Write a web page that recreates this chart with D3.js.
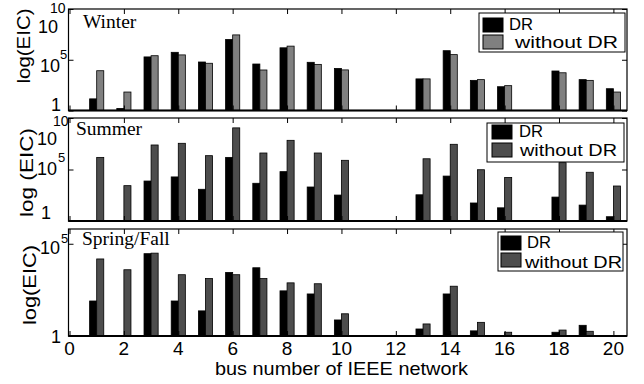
<!DOCTYPE html>
<html><head><meta charset="utf-8">
<script src="https://cdn.jsdelivr.net/npm/d3@7"></script>
<style>
body{margin:0;background:#fff;}
svg{display:block;}
text{font-family:"Liberation Sans",Arial,Helvetica,sans-serif;fill:#000;}
.ttl{font-family:"Liberation Serif","Times New Roman",serif;}
</style></head>
<body><svg id="c" width="644" height="384"></svg>
<script>
// ---- data ----
const buses = [1,2,3,4,5,6,7,8,9,10,11,12,13,14,15,16,17,18,19,20];
const seriesNames = ["DR", "without DR"];
const panelTitles = ["Winter", "Summer", "Spring/Fall"];
const yLabels = ["log(EIC)", "log (EIC)", "log(EIC)"];
const xTicks = [0,2,4,6,8,10,12,14,16,18,20];
const xLabel = "bus number of IEEE network";

const winterDR   = [14, 1.6, 1.9e5, 5.4e5, 6.0e4, 1.0e7, 3.8e4, 1.5e6, 5.6e4, 1.4e4, null, null, 1.3e3, 7.8e5, 930, 220, null, 7.8e3, 1.1e3, 140];
const winterNoDR = [8.3e3, 66, 2.5e5, 3.0e5, 4.5e4, 2.8e7, 9.8e3, 2.2e6, 3.5e4, 1.0e4, null, null, 1.3e3, 3.2e5, 1.1e3, 280, null, 5.2e3, 930, 66];
const summerDR   = [null, null, 7.6e3, 1.9e4, 1.2e3, 1.5e6, 4.6e3, 6.2e4, 2.0e3, 330, null, null, 350, 2.3e4, 56, 19, null, 210, 35, 2.6];
const summerNoDR = [1.5e6, 2.7e3, 2.4e7, 3.5e7, 2.2e6, 1.1e9, 4.0e6, 6.8e7, 4.0e6, 7.8e5, null, null, 1.1e6, 2.8e7, 9.5e4, 1.7e4, null, 4.6e5, 5.4e4, 2.5e3];
const springDR   = [79, null, 2.9e4, 79, 23, 2.8e3, 5.0e3, 280, 190, 7.4, null, null, 2.4, 190, 1.9, null, null, 1.6, 3.8, null];
const springNoDR = [1.5e4, 3.9e3, 3.1e4, 2.1e3, 1.3e3, 2.1e3, 1.3e3, 760, 680, 16, null, null, 4.5, 500, 5.5, 1.6, null, 2.1, 1.8, null];

const yDomainMax = [1e10, 1e10, Math.pow(10, 5.8)];
const yTickValues = [[1, 1e5, 1e10], [1, 1e5, 1e10], [1, 1e5]];
const yTickBase = [["1","10","10"], ["1","10","10"], ["1","10"]];
const yTickExp  = [["","5","10"], ["","5","10"], ["","5"]];

// ---- layout / style ----
const left = 68.5, right = 627;
const panels = [
  {top: 9,   bottom: 110.5, dr: winterDR, nodr: winterNoDR, gray: "#808080",
   title: {x: 83, y: 28},
   ylab: {x: 30, y: 46, len: 75},
   tl: [{bx:61, by:111, ex:0, ey:0}, {bx:60, by:72, ex:60, ey:59, es:13}, {bx:58, by:32.5, ex:50, ey:13, es:14}],
   leg: {x: 479, y: 13, w: 146, h: 39, sw: 483, s1: 18, s2: 35, t1x: 509, t1y: 30, t2x: 515, t2y: 48, t2len: 103}},
  {top: 118, bottom: 221, dr: summerDR, nodr: summerNoDR, gray: "#4d4d4d",
   title: {x: 76, y: 135},
   ylab: {x: 33, y: 172.5, len: 89},
   tl: [{bx:51, by:219}, {bx:57, by:175, ex:58, ey:162, es:13}, {bx:57, by:145, ex:53, ey:126, es:14}],
   leg: {x: 487, y: 123, w: 137, h: 39, sw: 492, s1: 125, s2: 143, t1x: 519, t1y: 137, t2x: 520, t2y: 156, t2len: 97}},
  {top: 229, bottom: 336, dr: springDR, nodr: springNoDR, gray: "#4d4d4d",
   title: {x: 82, y: 245},
   ylab: {x: 36, y: 285, len: 80},
   tl: [{bx:61, by:343}, {bx:60, by:254, ex:61, ey:243, es:13}],
   leg: {x: 498, y: 232, w: 125, h: 39, sw: 501, s1: 236, s2: 253, t1x: 527, t1y: 248, t2x: 525, t2y: 268, t2len: 97}}
];

const svg = d3.select("#c");
const x = d3.scaleLinear().domain([0, 20.5]).range([69.5, 627]);
const barW = 0.26;

panels.forEach((p, i) => {
  const y = d3.scaleLog().domain([1, yDomainMax[i]]).range([p.bottom, p.top]);
  const g = svg.append("g");

  // bars
  const drawBars = (vals, off, fill) => {
    g.selectAll(null).data(buses.map((b, k) => ({b, v: vals[k]})).filter(d => d.v != null))
      .enter().append("rect")
      .attr("x", d => x(d.b + off))
      .attr("width", x(barW) - x(0))
      .attr("y", d => y(d.v))
      .attr("height", d => y(1) - y(d.v))
      .attr("fill", fill).attr("stroke", "#000").attr("stroke-width", 0.8);
  };
  drawBars(p.dr, -barW, "#000");
  drawBars(p.nodr, 0, p.gray);

  // axes (ticks inside, box)
  const axB = d3.axisBottom(x).tickValues(xTicks).tickSize(-5).tickFormat("");
  const axT = d3.axisTop(x).tickValues(xTicks).tickSize(-5).tickFormat("");
  const axL = d3.axisLeft(y).tickValues(yTickValues[i]).tickSize(-5).tickFormat("");
  const axR = d3.axisRight(y).tickValues(yTickValues[i]).tickSize(-5).tickFormat("");
  [[axB, `translate(0,${p.bottom})`], [axT, `translate(0,${p.top})`],
   [axL, `translate(${left},0)`], [axR, `translate(${right},0)`]].forEach(([ax, tr]) => {
    const a = g.append("g").attr("transform", tr).call(ax);
    a.select(".domain").remove();
    a.selectAll("line").attr("stroke", "#000").attr("stroke-width", 1);
  });
  g.append("rect").attr("x", left).attr("y", p.top).attr("width", right - left).attr("height", p.bottom - p.top)
    .attr("fill", "none").attr("stroke", "#000").attr("stroke-width", 1.2);
  g.append("line").attr("x1", left).attr("x2", right).attr("y1", p.bottom).attr("y2", p.bottom)
    .attr("stroke", "#000").attr("stroke-width", 2);

  // y tick labels
  yTickValues[i].forEach((v, k) => {
    const t = p.tl[k];
    g.append("text").attr("x", t.bx).attr("y", t.by).attr("text-anchor", "end")
      .style("font-size", "18px").text(yTickBase[i][k]);
    if (yTickExp[i][k]) {
      g.append("text").attr("x", t.ex).attr("y", t.ey)
        .style("font-size", t.es + "px").text(yTickExp[i][k]);
    }
  });

  // y label
  g.append("text").attr("transform", `translate(${p.ylab.x},${p.ylab.y}) rotate(-90)`)
    .attr("text-anchor", "middle").style("font-size", "19px")
    .attr("textLength", p.ylab.len).attr("lengthAdjust", "spacingAndGlyphs")
    .text(yLabels[i]);

  // title
  g.append("text").attr("class", "ttl").attr("x", p.title.x).attr("y", p.title.y)
    .style("font-size", "19.5px").text(panelTitles[i]);

  // legend
  const L = p.leg;
  const lg = g.append("g");
  lg.append("rect").attr("x", L.x).attr("y", L.y).attr("width", L.w).attr("height", L.h)
    .attr("fill", "#fff").attr("stroke", "#000").attr("stroke-width", 1);
  lg.append("rect").attr("x", L.sw).attr("y", L.s1).attr("width", 20).attr("height", 14)
    .attr("fill", "#000").attr("stroke", "#000");
  lg.append("rect").attr("x", L.sw).attr("y", L.s2).attr("width", 20).attr("height", 14)
    .attr("fill", p.gray).attr("stroke", "#000");
  lg.append("text").attr("x", L.t1x).attr("y", L.t1y).style("font-size", "17px")
    .attr("textLength", 24).attr("lengthAdjust", "spacingAndGlyphs").text(seriesNames[0]);
  lg.append("text").attr("x", L.t2x).attr("y", L.t2y).style("font-size", "17px")
    .attr("textLength", L.t2len).attr("lengthAdjust", "spacingAndGlyphs").text(seriesNames[1]);

  // x tick labels on bottom panel
  if (i === panels.length - 1) {
    g.selectAll(null).data(xTicks).enter().append("text")
      .attr("x", d => x(d)).attr("y", 355).attr("text-anchor", "middle")
      .style("font-size", "19px").text(d => d);
  }
});

svg.append("text").attr("x", 215).attr("y", 375).style("font-size", "19px")
  .attr("textLength", 253).attr("lengthAdjust", "spacingAndGlyphs").text(xLabel);
</script>
</body></html>
